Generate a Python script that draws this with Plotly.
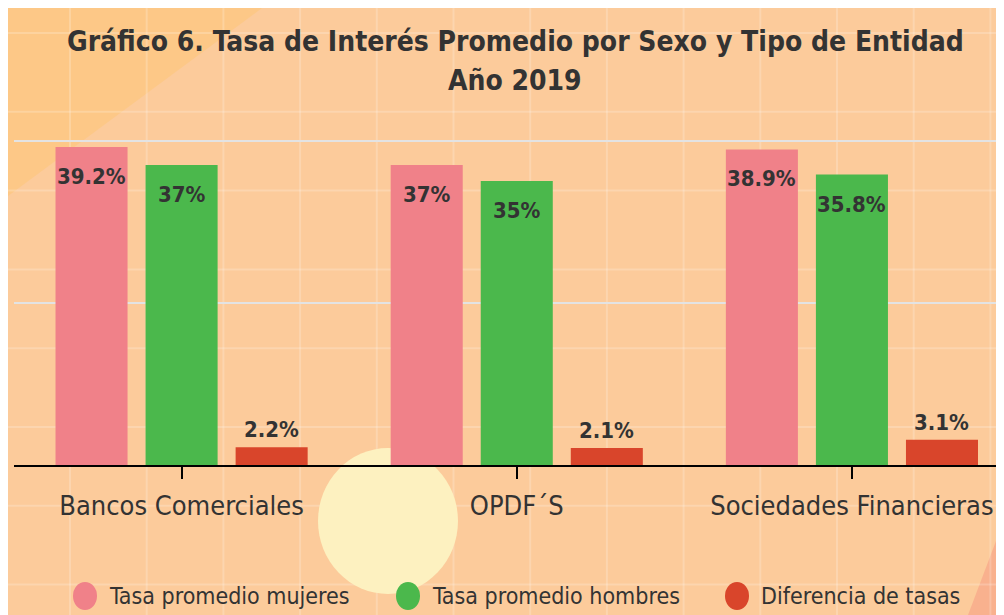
import plotly.graph_objects as go

# data
entidades = ["Bancos Comerciales", "OPDF´S", "Sociedades Financieras"]
series = ["Tasa promedio mujeres", "Tasa promedio hombres", "Diferencia de tasas"]
mujeres = [39.2, 37.0, 38.9]
hombres = [37.0, 35.0, 35.8]
diferencia = [2.2, 2.1, 3.1]
etiquetas_mujeres = ["39.2%", "37%", "38.9%"]
etiquetas_hombres = ["37%", "35%", "35.8%"]
etiquetas_diferencia = ["2.2%", "2.1%", "3.1%"]

colores = ["#F08189", "#4BB84C", "#D9452B"]
FONT = "DejaVu Sans Condensed, Liberation Sans Narrow, sans-serif"
TXT = "#333333"

# page has an 8px body margin, so the figure starts at (8, 8) on the page
OFF = 8
W, H = 1004 - OFF, 615 - OFF
L, R, T, B = 6, 0, 122, 150
PW, PH = W - L - R, H - T - B


def px(x):
    # page pixel -> paper x
    return (x - OFF - L) / PW


def py(y):
    # page pixel -> paper y
    return (H - B - (y - OFF)) / PH


fig = go.Figure()
valores = [mujeres, hombres, diferencia]
for nombre, vals, color in zip(series, valores, colores):
    fig.add_trace(go.Bar(x=entidades, y=vals, name=nombre, marker=dict(color=color, line=dict(width=0)),
                         showlegend=False))

# value labels
ann = []
for k, (vals, labs) in enumerate(zip(valores, [etiquetas_mujeres, etiquetas_hombres, etiquetas_diferencia])):
    for cat, v, lab in zip(entidades, vals, labs):
        inside = k < 2
        ann.append(dict(x=cat, y=v, text=lab, showarrow=False, xshift=(k - 1) * 90,
                        yanchor="top" if inside else "bottom", yshift=-15 if inside else 3,
                        font=dict(family=FONT, size=22, color=TXT, weight="bold")))

shapes = []
# decorative background
shapes.append(dict(type="path", xref="paper", yref="paper",
                   path=f"M {px(8)} {py(8)} L {px(262)} {py(8)} L {px(8)} {py(196)} Z",
                   fillcolor="#FEC67A", line=dict(width=0), layer="below", opacity=0.6))
shapes.append(dict(type="path", xref="paper", yref="paper",
                   path=f"M {px(1004)} {py(520)} L {px(1004)} {py(615)} L {px(968)} {py(615)} Z",
                   fillcolor="#F9B18E", line=dict(width=0), layer="below"))
for i in range(13):
    xv = 70 + i * 76.7
    shapes.append(dict(type="line", xref="paper", yref="paper", x0=px(xv), x1=px(xv), y0=py(8), y1=py(615),
                       line=dict(color="rgba(255,255,255,0.2)", width=2), layer="below"))
for j in range(8):
    yv = 33 + j * 78.8
    shapes.append(dict(type="line", xref="paper", yref="paper", x0=px(8), x1=px(1004), y0=py(yv), y1=py(yv),
                       line=dict(color="rgba(255,255,255,0.2)", width=2), layer="below"))
shapes.append(dict(type="circle", xref="paper", yref="paper", x0=px(318), x1=px(458), y0=py(448), y1=py(594),
                   fillcolor="#FDF1C0", line=dict(width=0), layer="below"))

# legend drawn by hand with big circles
leg_x = [85, 408, 737]
for xc, color, nombre in zip(leg_x, colores, series):
    shapes.append(dict(type="circle", xref="paper", yref="paper", x0=px(xc - 12), x1=px(xc + 12),
                       y0=py(582), y1=py(610), fillcolor=color, line=dict(width=0)))
    ann.append(dict(x=px(xc + 22), y=py(596), xref="paper", yref="paper", text=nombre, showarrow=False,
                    xanchor="left", yanchor="middle", font=dict(family=FONT, size=23, color=TXT)))

# two-line title
for texto, yc in [("Gráfico 6. Tasa de Interés Promedio por Sexo y Tipo de Entidad", 41), ("Año 2019", 80)]:
    ann.append(dict(x=px(515), y=py(yc), xref="paper", yref="paper", text=texto, showarrow=False,
                    xanchor="center", yanchor="middle",
                    font=dict(family=FONT, size=28, color=TXT, weight="bold")))

fig.update_layout(
    width=W, height=H,
    margin=dict(l=L, r=R, t=T, b=B),
    paper_bgcolor="#FCCB9B",
    plot_bgcolor="rgba(0,0,0,0)",
    barmode="group", bargap=0.194, bargroupgap=0.2,
    annotations=ann,
    shapes=shapes,
    showlegend=False,
)
fig.update_xaxes(range=[-0.5, 2.4537], showline=True, linecolor="black", linewidth=2,
                 ticks="outside", ticklen=12, tickwidth=2, tickcolor="black",
                 tickfont=dict(family=FONT, size=27, color=TXT), ticklabelstandoff=4, showgrid=False)
fig.update_yaxes(range=[0, 41.3], tickvals=[20, 40], showticklabels=False, gridcolor="#E3E3E3",
                 gridwidth=2, zeroline=False)

fig.write_html("out.html")
